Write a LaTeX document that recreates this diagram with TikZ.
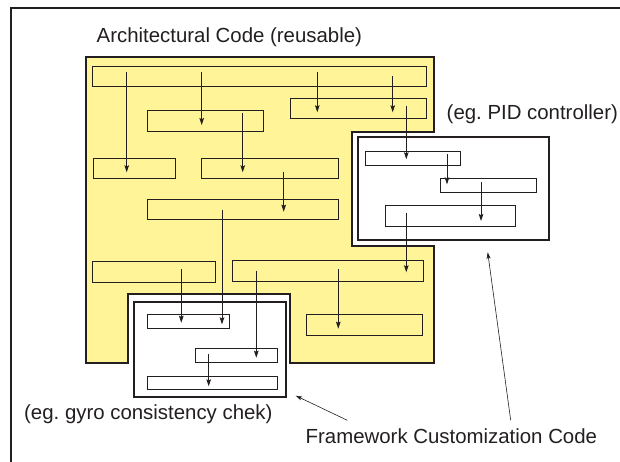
\documentclass[tikz,border=0pt]{standalone}
\usepackage{fontspec}
\setmainfont{Liberation Sans}
\usetikzlibrary{arrows.meta,fit}
\definecolor{ink}{RGB}{35,31,32}
\definecolor{archyellow}{RGB}{255,244,152}
\frenchspacing
\begin{document}
\begin{tikzpicture}[x=1pt,y=-1pt,
  thinbox/.style={draw=ink, line width=0.9pt, inner sep=0pt, outer sep=0pt},
  ybox/.style={thinbox, fill=archyellow},
  wbox/.style={thinbox, fill=white},
  custbox/.style={draw=ink, line width=2pt, fill=white, inner sep=0pt, outer sep=0pt},
  flow/.style={draw=ink, line width=0.9pt, -{Stealth[length=7pt,width=4.6pt,inset=1.2pt]}},
  pointer/.style={draw=ink, line width=0.6pt, -{Stealth[length=6.5pt,width=4pt,inset=1.5pt]}},
  lbl/.style={text=ink, font=\fontsize{20.4}{24}\selectfont, inner sep=0pt, anchor=base west}]
\useasboundingbox (0,0) rectangle (620,462);
\fill[white] (0,0) rectangle (620,462);
% outer frame (cut by the page edges)
\draw[ink, line width=2pt] (11,462) -- (11,8.3) -- (620,8.3);

% architectural code region
\draw[draw=ink, line width=2pt, fill=archyellow, line join=miter]
  (86,57.3) -- (433.7,57.3) -- (433.7,132.3) -- (351.7,132.3) -- (351.7,246)
  -- (433.7,246) -- (433.7,362.7) -- (290.3,362.7) -- (290.3,294.3)
  -- (127.7,294.3) -- (127.7,362.7) -- (86,362.7) -- cycle;

% customization boxes
\node[custbox, fit={(357.7,137.3) (549.3,240)}] (pid) {};
\node[custbox, fit={(134.3,302) (285.5,397.3)}] (gyro) {};

% inner blocks (architectural)
\node[ybox, fit={(92.7,66.3) (426.7,86.7)}] (R1) {};
\node[ybox, fit={(147,110.3) (263.3,131)}] (R2) {};
\node[ybox, fit={(290.3,98) (426.7,118.3)}] (R3) {};
\node[ybox, fit={(93.7,158) (175.7,178.7)}] (R4) {};
\node[ybox, fit={(201.7,158) (338.3,178.7)}] (R5) {};
\node[ybox, fit={(147.3,199) (338.3,219.3)}] (R6) {};
\node[ybox, fit={(92.7,261.7) (215.3,282)}] (R7) {};
\node[ybox, fit={(232.3,260.3) (423.7,281)}] (R8) {};
\node[ybox, fit={(306.3,314.7) (422.3,335.3)}] (R9) {};
% inner blocks (PID)
\node[wbox, fit={(365,151) (460.7,165)}] (P1) {};
\node[wbox, fit={(440,178.7) (536,192.3)}] (P2) {};
\node[wbox, fit={(385.7,205.7) (515.3,226.3)}] (P3) {};
% inner blocks (gyro)
\node[wbox, fit={(147,314.7) (229.3,328.7)}] (G1) {};
\node[wbox, fit={(195,348.7) (277,362.7)}] (G2) {};
\node[wbox, fit={(147,376) (277,389.7)}] (G3) {};

% arrow end points
\coordinate (a1s) at (126.7,72);   \coordinate (a1e) at (126.7,172.3);
\coordinate (a2s) at (201.7,72);   \coordinate (a2e) at (201.7,125);
\coordinate (a3s) at (317.3,72);   \coordinate (a3e) at (317.3,112.3);
\coordinate (a4s) at (392.7,76.3); \coordinate (a4e) at (392.7,112.3);
\coordinate (a5s) at (406.3,106);  \coordinate (a5e) at (406.3,159.3);
\coordinate (a6s) at (242.7,113.3);\coordinate (a6e) at (242.7,172.3);
\coordinate (a7s) at (283.7,171.7);\coordinate (a7e) at (283.7,211.7);
\coordinate (a8s) at (222,210.3);  \coordinate (a8e) at (222,324.3);
\coordinate (a9s) at (181.3,269.3);\coordinate (a9e) at (181.3,322.7);
\coordinate (a10s) at (256.3,270.7);\coordinate (a10e) at (256.3,357.7);
\coordinate (a11s) at (338.3,269.3);\coordinate (a11e) at (338.3,328.7);
\coordinate (a12s) at (447,154.3); \coordinate (a12e) at (447,184.3);
\coordinate (a13s) at (481,182.3); \coordinate (a13e) at (481,221);
\coordinate (a14s) at (406.3,212.7);\coordinate (a14e) at (406.3,272.3);
\coordinate (a15s) at (208.7,353.7);\coordinate (a15e) at (208.7,386.3);

\foreach \i in {1,...,15} { \draw[flow] (a\i s) -- (a\i e); }

% labels
\node[lbl] (title) at (96.5,42.7) {Architectural Code (reusable)};
\node[lbl] (pidlbl) at (446.5,119.3) {(eg. PID controller)};
\node[lbl] (gyrolbl) at (24,419.7) {(eg. gyro consistency chek)};
\node[lbl] (fcc) at (305.5,443.7) {Framework Customization Code};

% pointers
\coordinate (p1s) at (510.7,420.3); \coordinate (p1e) at (487.7,252.3);
\coordinate (p2s) at (347.3,420.3); \coordinate (p2e) at (295.7,395.7);
\draw[pointer] (p1s) -- (p1e);
\draw[pointer] (p2s) -- (p2e);
\end{tikzpicture}
\end{document}
